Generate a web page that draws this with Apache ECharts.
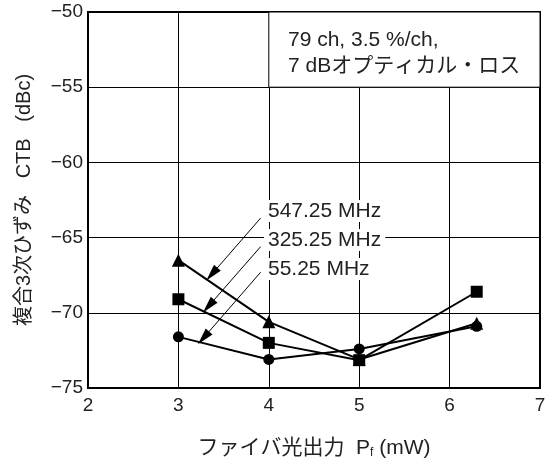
<!DOCTYPE html>
<html>
<head>
<meta charset="utf-8">
<script src="https://cdn.jsdelivr.net/npm/echarts@6/dist/echarts.min.js"></script>
<style>
html, body { margin: 0; padding: 0; background: #fff; }
#main { width: 555px; height: 466px; }
</style>
</head>
<body>
<div id="main"></div>
<script>
// fiber optical output (mW) and CTB (dBc) per carrier frequency
var powerMw = [3, 4, 5, 6.3];
var ctb547 = [-66.5, -70.6, -73.1, -70.7];
var ctb325 = [-69.1, -72.0, -73.15, -68.6];
var ctb55 = [-71.6, -73.1, -72.4, -70.9];
var seriesNames = ['547.25 MHz', '325.25 MHz', '55.25 MHz'];
var xTicks = [2, 3, 4, 5, 6, 7];
var yTicks = [-75, -70, -65, -60, -55, -50];

var FONT = "'Liberation Sans', 'Noto Sans CJK JP', sans-serif";

function pairs(ys) {
    var out = [];
    for (var i = 0; i < powerMw.length; i++) out.push([powerMw[i], ys[i]]);
    return out;
}

function arrowLine(x0, y0, x1, y1) {
    return {
        silent: true,
        symbol: ['none', 'triangle'],
        symbolSize: [9, 17],
        lineStyle: { color: '#000', width: 1, type: 'solid' },
        itemStyle: { color: '#000' },
        label: { show: false },
        emphasis: { disabled: true },
        data: [[{ coord: [x0, y0] }, { coord: [x1, y1] }]]
    };
}

function makeSeries(name, ys, symbol, size, arrow) {
    return {
        name: name,
        type: 'line',
        data: pairs(ys),
        symbol: symbol,
        symbolSize: size,
        showAllSymbol: true,
        lineStyle: { color: '#000', width: 2 },
        itemStyle: { color: '#000' },
        emphasis: { disabled: true },
        markLine: arrow,
        z: 5
    };
}

var myChart = echarts.init(document.getElementById('main'), null, { renderer: 'canvas' });

var option = {
    animation: false,
    backgroundColor: '#fff',
    grid: {
        left: 88, right: 15, top: 12, bottom: 78,
        show: true, borderColor: '#000', borderWidth: 2
    },
    xAxis: {
        type: 'value',
        min: xTicks[0], max: xTicks[xTicks.length - 1], interval: 1,
        name: 'ファイバ光出力  P{sub|f} (mW)',
        nameLocation: 'middle',
        nameGap: 50,
        nameTextStyle: {
            fontFamily: FONT, fontSize: 21, color: '#222',
            rich: { sub: { fontFamily: FONT, fontSize: 12, color: '#222', verticalAlign: 'bottom', padding: [8, 0, 0, 0] } }
        },
        axisLine: { lineStyle: { color: '#000', width: 2 } },
        axisTick: { show: false },
        axisLabel: { fontFamily: FONT, fontSize: 19, color: '#222', margin: 8 },
        splitLine: { show: true, lineStyle: { color: '#000', width: 1 } }
    },
    yAxis: {
        type: 'value',
        min: yTicks[0], max: yTicks[yTicks.length - 1], interval: 5,
        name: '複合3次ひずみ   CTB   (dBc)',
        nameLocation: 'middle',
        nameGap: 54,
        nameTextStyle: { fontFamily: FONT, fontSize: 20, color: '#222' },
        axisLine: { show: true, lineStyle: { color: '#000', width: 2 } },
        axisTick: { show: false },
        axisLabel: {
            fontFamily: FONT, fontSize: 19, color: '#222', margin: 5,
            formatter: function (v) { return String(v).replace('-', '\u2212'); }
        },
        splitLine: { show: true, lineStyle: { color: '#000', width: 1 } }
    },
    series: [
        makeSeries(seriesNames[0], ctb547, 'triangle', 13, arrowLine(3.91, -63.7, 3.37, -67.43)),
        makeSeries(seriesNames[1], ctb325, 'rect', 12, arrowLine(3.91, -65.6, 3.334, -69.56)),
        makeSeries(seriesNames[2], ctb55, 'circle', 11, arrowLine(3.91, -67.3, 3.278, -71.67)),
        {
            // white note box in the top right corner
            type: 'line',
            data: [],
            silent: true,
            markArea: {
                silent: true,
                itemStyle: { color: '#fff', borderColor: '#000', borderWidth: 1 },
                data: [[{ coord: [4, -55] }, { coord: [7, -50] }]]
            },
            z: 3
        }
    ],
    graphic: [
        {
            type: 'text', left: 288, top: 27, z: 100, silent: true,
            style: { text: '79 ch, 3.5 %/ch,\n7 dBオプティカル・ロス', font: '21px ' + FONT, fill: '#222', lineHeight: 26 }
        },
        {
            type: 'text', left: 264, top: 200, z: 100, silent: true,
            style: { text: seriesNames[0], font: '21px ' + FONT, fill: '#222', backgroundColor: '#fff', padding: [1, 4, 0, 4] }
        },
        {
            type: 'text', left: 264, top: 229, z: 100, silent: true,
            style: { text: seriesNames[1], font: '21px ' + FONT, fill: '#222', backgroundColor: '#fff', padding: [1, 4, 0, 4] }
        },
        {
            type: 'text', left: 264, top: 258, z: 100, silent: true,
            style: { text: seriesNames[2], font: '21px ' + FONT, fill: '#222', backgroundColor: '#fff', padding: [1, 4, 0, 4] }
        }
    ]
};

if (option && typeof option === 'object') {
    myChart.setOption(option);
}
</script>
</body>
</html>
